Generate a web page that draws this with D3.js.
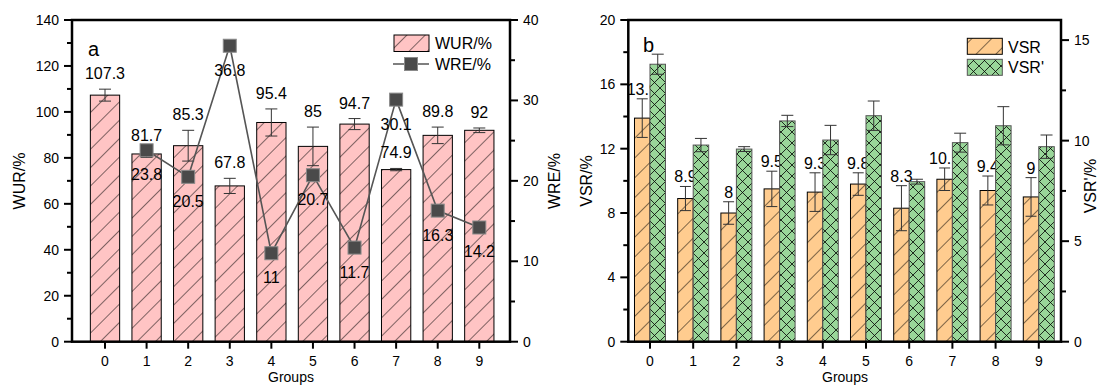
<!DOCTYPE html>
<html><head><meta charset="utf-8">
<script src="https://cdn.jsdelivr.net/npm/d3@7"></script>
<style>body{margin:0;background:#fff}svg{display:block}text{font-family:"Liberation Sans",Arial,sans-serif;fill:#000}</style>
</head><body><svg id="c" width="1109" height="385"></svg>
<script>
// ---- data ----
const groups = ["0","1","2","3","4","5","6","7","8","9"];
const wur = [107.3, 81.7, 85.3, 67.8, 95.4, 85, 94.7, 74.9, 89.8, 92];
const wurErr = [2.6, 1.5, 6.7, 3.3, 5.9, 8.4, 2.4, 0.5, 3.6, 1.0];
const wre = [null, 23.8, 20.5, 36.8, 11, 20.7, 11.7, 30.1, 16.3, 14.2];
const vsr = [13.9, 8.9, 8, 9.5, 9.3, 9.8, 8.3, 10.1, 9.4, 9];
const vsrErr = [1.2, 0.75, 0.7, 1.1, 1.2, 0.7, 1.4, 0.7, 0.9, 1.2];
const vsrP = [13.8, 9.78, 9.58, 10.98, 10.03, 11.24, 7.96, 9.9, 10.74, 9.7];
const vsrPErr = [0.5, 0.33, 0.12, 0.28, 0.73, 0.73, 0.12, 0.47, 0.95, 0.58];
const ticksWUR = [0,20,40,60,80,100,120,140];
const ticksWRE = [0,10,20,30,40];
const ticksVSR = [0,4,8,12,16,20];
const ticksVSRP = [0,5,10,15];

const svg = d3.select("#c");
const defs = svg.append("defs");
function hatch(id, fill, w){
  const p = defs.append("pattern").attr("id",id).attr("patternUnits","userSpaceOnUse")
    .attr("width",w).attr("height",w).attr("patternTransform","rotate(45)");
  p.append("rect").attr("width",w).attr("height",w).attr("fill",fill);
  p.append("line").attr("x1",0).attr("y1",0).attr("x2",0).attr("y2",w).attr("stroke","#000").attr("stroke-width",1);
}
hatch("pink","#ffc4c4",13);
hatch("orange","#ffcc8f",14);
const cp = defs.append("pattern").attr("id","cross").attr("patternUnits","userSpaceOnUse").attr("width",11).attr("height",11);
cp.append("rect").attr("width",11).attr("height",11).attr("fill","#99d699");
cp.append("path").attr("d","M0,0L11,11M11,0L0,11").attr("stroke","#000").attr("stroke-width",0.8);

const Y0 = 341.7, Y1 = 20;
function yAxes(g, scaleMajor, majors, minors, side, x, fmt){
  const dir = side==="left" ? -1 : 1;
  g.selectAll(null).data(majors).enter().append("line")
    .attr("x1",x).attr("x2",x+dir*8).attr("y1",d=>scaleMajor(d)).attr("y2",d=>scaleMajor(d))
    .attr("stroke","#000").attr("stroke-width",2);
  g.selectAll(null).data(minors).enter().append("line")
    .attr("x1",x).attr("x2",x+dir*5).attr("y1",d=>scaleMajor(d)).attr("y2",d=>scaleMajor(d))
    .attr("stroke","#000").attr("stroke-width",2);
  g.selectAll(null).data(majors).enter().append("text")
    .attr("x",x+dir*13).attr("y",d=>scaleMajor(d)+5)
    .attr("text-anchor",side==="left"?"end":"start").attr("font-size",14).text(d=>fmt?fmt(d):d);
}
function xAxis(g, xs, xr){
  g.selectAll(null).data(groups).enter().append("line")
    .attr("x1",(d,i)=>xs(i)).attr("x2",(d,i)=>xs(i)).attr("y1",Y0).attr("y2",Y0+7)
    .attr("stroke","#000").attr("stroke-width",2);
  g.selectAll(null).data(groups).enter().append("text")
    .attr("x",(d,i)=>xs(i)).attr("y",365.5).attr("text-anchor","middle").attr("font-size",14).text(d=>d);
}
function errBars(g, xs, vals, errs, ys, cap, off){
  vals.forEach((v,i)=>{
    if(v==null) return;
    const cx = xs(i)+off, t = ys(v+errs[i]), b = ys(v-errs[i]);
    g.append("path").attr("d",`M${cx},${t}V${b}M${cx-cap/2},${t}H${cx+cap/2}M${cx-cap/2},${b}H${cx+cap/2}`)
      .attr("stroke","#333").attr("stroke-width",1).attr("fill","none");
  });
}

// ================= Panel a =================
const ga = svg.append("g");
const xa = d3.scaleLinear().domain([-0.7935, 9.738]).range([72,510]);
const ya = d3.scaleLinear().domain([0,140]).range([Y0,Y1]);
const ya2 = d3.scaleLinear().domain([0,40]).range([Y0,Y1]);
const bwA = 29.3;
ga.selectAll(null).data(wur).enter().append("rect")
  .attr("x",(d,i)=>xa(i)-bwA/2).attr("width",bwA).attr("y",d=>ya(d)).attr("height",d=>Y0-ya(d))
  .attr("fill","url(#pink)").attr("stroke","#000").attr("stroke-width",1);
errBars(ga, xa, wur, wurErr, ya, 12, 0);
ga.append("rect").attr("x",72).attr("y",Y1).attr("width",510-72).attr("height",Y0-Y1)
  .attr("fill","none").attr("stroke","#000").attr("stroke-width",2.5);
yAxes(ga, ya, ticksWUR, d3.range(10,140,20), "left", 72);
yAxes(ga, ya2, ticksWRE, d3.range(5,40,10), "right", 510);
xAxis(ga, xa);
const wreIdx = d3.range(groups.length).filter(i=>wre[i]!=null);
ga.append("path").datum(wreIdx)
  .attr("d", d3.line().x(i=>xa(i)).y(i=>ya2(wre[i])))
  .attr("fill","none").attr("stroke","#555").attr("stroke-width",1.6);
ga.selectAll(null).data(wreIdx).enter().append("rect")
  .attr("x",i=>xa(i)-6.5).attr("y",i=>ya2(wre[i])-6.5).attr("width",13).attr("height",13)
  .attr("fill","#4a4a4a").attr("stroke","#8a8a8a").attr("stroke-width",1);
ga.selectAll(null).data(wur).enter().append("text")
  .attr("x",(d,i)=>xa(i)).attr("y",(d,i)=>ya(d+wurErr[i])-10).attr("text-anchor","middle")
  .attr("font-size",16).text(d=>String(d));
ga.selectAll(null).data(wreIdx).enter().append("text")
  .attr("x",i=>xa(i)).attr("y",i=>ya2(wre[i])+30).attr("text-anchor","middle")
  .attr("font-size",16).text(i=>String(wre[i]));
ga.append("text").attr("x",88).attr("y",56).attr("font-size",20).text("a");
// legend a
ga.append("rect").attr("x",394).attr("y",35).attr("width",35).attr("height",16.5)
  .attr("fill","url(#pink)").attr("stroke","#000").attr("stroke-width",1);
ga.append("text").attr("x",435).attr("y",49).attr("font-size",16).text("WUR/%");
ga.append("line").attr("x1",393).attr("x2",429).attr("y1",64).attr("y2",64).attr("stroke","#555").attr("stroke-width",1.6);
ga.append("rect").attr("x",404.5).attr("y",57.5).attr("width",13).attr("height",13)
  .attr("fill","#4a4a4a").attr("stroke","#8a8a8a");
ga.append("text").attr("x",435).attr("y",70).attr("font-size",16).text("WRE/%");
ga.append("text").attr("transform","translate(25,181) rotate(-90)").attr("text-anchor","middle").attr("font-size",16).text("WUR/%");
ga.append("text").attr("transform","translate(560,181) rotate(-90)").attr("text-anchor","middle").attr("font-size",16).text("WRE/%");
ga.append("text").attr("x",291).attr("y",381.8).attr("text-anchor","middle").attr("font-size",14).text("Groups");

// ================= Panel b =================
const gb = svg.append("g");
const xb = d3.scaleLinear().domain([-0.502, 9.514]).range([628.3,1061]);
const yb = d3.scaleLinear().domain([0,20]).range([Y0,Y1]);
const yb2 = d3.scaleLinear().domain([0,16]).range([Y0,Y1]);
const bwB = 15.5;
gb.selectAll(null).data(vsr).enter().append("rect")
  .attr("x",(d,i)=>xb(i)-bwB).attr("width",bwB).attr("y",d=>yb(d)).attr("height",d=>Y0-yb(d))
  .attr("fill","url(#orange)").attr("stroke","#000").attr("stroke-width",1);
errBars(gb, xb, vsr, vsrErr, yb, 11, -bwB/2);
gb.selectAll(null).data(vsr).enter().append("text")
  .attr("x",(d,i)=>xb(i)-bwB/2).attr("y",(d,i)=>yb(d+vsrErr[i])-4).attr("text-anchor","middle")
  .attr("font-size",16).text(d=>String(d));
gb.selectAll(null).data(vsrP).enter().append("rect")
  .attr("x",(d,i)=>xb(i)).attr("width",bwB).attr("y",d=>yb2(d)).attr("height",d=>Y0-yb2(d))
  .attr("fill","url(#cross)").attr("stroke","#555").attr("stroke-width",1);
errBars(gb, xb, vsrP, vsrPErr, yb2, 12, bwB/2);
gb.append("rect").attr("x",628.3).attr("y",Y1).attr("width",1061-628.3).attr("height",Y0-Y1)
  .attr("fill","none").attr("stroke","#000").attr("stroke-width",2.5);
yAxes(gb, yb, ticksVSR, d3.range(2,20,4), "left", 628.3);
yAxes(gb, yb2, ticksVSRP, [2.5,7.5,12.5], "right", 1061);
xAxis(gb, xb);
gb.append("text").attr("x",643).attr("y",51.5).attr("font-size",20).text("b");
gb.append("rect").attr("x",967.3).attr("y",38.3).attr("width",35).attr("height",16)
  .attr("fill","url(#orange)").attr("stroke","#000").attr("stroke-width",1);
gb.append("text").attr("x",1008).attr("y",53).attr("font-size",16).text("VSR");
gb.append("rect").attr("x",967.3).attr("y",59.3).attr("width",35).attr("height",16)
  .attr("fill","url(#cross)").attr("stroke","#555").attr("stroke-width",1);
gb.append("text").attr("x",1008).attr("y",73).attr("font-size",16).text("VSR'");
gb.append("text").attr("transform","translate(592,181) rotate(-90)").attr("text-anchor","middle").attr("font-size",16).text("VSR/%");
gb.append("text").attr("transform","translate(1096,186) rotate(-90)").attr("text-anchor","middle").attr("font-size",16).text("VSR'/%");
gb.append("text").attr("x",845).attr("y",381.8).attr("text-anchor","middle").attr("font-size",14).text("Groups");
</script></body></html>
